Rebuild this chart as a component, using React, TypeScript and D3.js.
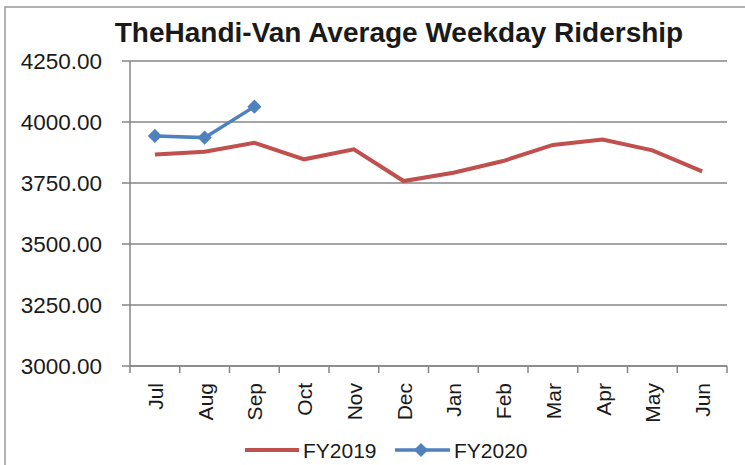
import React, { useEffect, useRef } from "react";
import * as d3 from "d3";

const months = ["Jul", "Aug", "Sep", "Oct", "Nov", "Dec", "Jan", "Feb", "Mar", "Apr", "May", "Jun"];
const fy2019 = [3867, 3878, 3915, 3847, 3888, 3758, 3792, 3840, 3906, 3928, 3884, 3798];
const fy2020 = [3943, 3936, 4063];
const yTicks = [3000, 3250, 3500, 3750, 4000, 4250];

const W = 745;
const H = 465;
const left = 130;
const right = 727;
const top = 61;
const bottom = 366;
const font = "'Liberation Sans', Arial, sans-serif";

const x = d3.scaleBand().domain(months).range([left, right]);
const y = d3.scaleLinear().domain([3000, 4250]).range([bottom, top]);

const XAxis = () => {
  const axis = useRef<SVGGElement>(null);
  useEffect(() => {
    const g = d3.select(axis.current);
    g.selectAll("*").remove();
    g.append("line")
      .attr("x1", left).attr("x2", right)
      .attr("y1", bottom).attr("y2", bottom)
      .attr("stroke", "#868686").attr("stroke-width", 1.5);
    const edges = months.map(m => x(m)!).concat([right]);
    g.selectAll("line.tick")
      .data(edges)
      .enter().append("line")
      .attr("class", "tick")
      .attr("x1", d => d).attr("x2", d => d)
      .attr("y1", bottom).attr("y2", bottom + 7)
      .attr("stroke", "#868686").attr("stroke-width", 1.5);
    g.selectAll("text")
      .data(months)
      .enter().append("text")
      .attr("transform", d => `translate(${x(d)! + x.bandwidth() / 2 + 8}, ${bottom + 17}) rotate(-90)`)
      .attr("text-anchor", "end")
      .attr("font-family", font)
      .attr("font-size", 21)
      .attr("fill", "#1a1a1a")
      .text(d => d);
  });
  return <g className="axis x" ref={axis} />;
};

const YAxis = () => {
  const axis = useRef<SVGGElement>(null);
  useEffect(() => {
    const g = d3.select(axis.current);
    g.selectAll("*").remove();
    g.selectAll("line.grid")
      .data(yTicks)
      .enter().append("line")
      .attr("class", "grid")
      .attr("x1", left - 8).attr("x2", right)
      .attr("y1", d => y(d)).attr("y2", d => y(d))
      .attr("stroke", "#868686").attr("stroke-width", 1.5);
    g.append("line")
      .attr("x1", left).attr("x2", left)
      .attr("y1", top).attr("y2", bottom)
      .attr("stroke", "#868686").attr("stroke-width", 1.5);
    g.selectAll("text")
      .data(yTicks)
      .enter().append("text")
      .attr("x", left - 28)
      .attr("y", d => y(d) + 8)
      .attr("text-anchor", "end")
      .attr("font-family", font)
      .attr("font-size", 22.5)
      .attr("fill", "#1a1a1a")
      .text(d => d3.format(".2f")(d));
  });
  return <g className="axis y" ref={axis} />;
};

const diamond = d3.symbol().type(d3.symbolSquare).size(100)();

const App = () => {
  const cx = (i: number) => x(months[i])! + x.bandwidth() / 2;
  const line = d3.line<number>().x((_, i) => cx(i)).y(d => y(d));

  return (
    <svg width={W} height={H} style={{ position: "absolute", left: 0, top: 0 }}>
      <rect x={5} y={7} width={W + 20} height={H + 20} fill="white" stroke="#999" strokeWidth={1.5} />
      <text x={399} y={42} textAnchor="middle" fontFamily={font} fontWeight="bold" fontSize={28} fill="#1a1a1a">
        TheHandi-Van Average Weekday Ridership
      </text>
      <YAxis />
      <XAxis />
      <path d={line(fy2019)!} fill="none" stroke="#C0504D" strokeWidth={4} />
      <path d={line(fy2020)!} fill="none" stroke="#4F81BD" strokeWidth={3.5} />
      {fy2020.map((d, i) => (
        <path key={i} d={diamond!} transform={`translate(${cx(i)}, ${y(d)}) rotate(45)`} fill="#4F81BD" />
      ))}
      <g fontFamily={font} fontSize={21} fill="#1a1a1a">
        <line x1={245} x2={299} y1={450} y2={450} stroke="#C0504D" strokeWidth={4} />
        <text x={303} y={458}>FY2019</text>
        <line x1={395} x2={450} y1={450} y2={450} stroke="#4F81BD" strokeWidth={3.5} />
        <path d={diamond!} transform="translate(421, 450) rotate(45)" fill="#4F81BD" />
        <text x={454} y={458}>FY2020</text>
      </g>
    </svg>
  );
};

export default App;
